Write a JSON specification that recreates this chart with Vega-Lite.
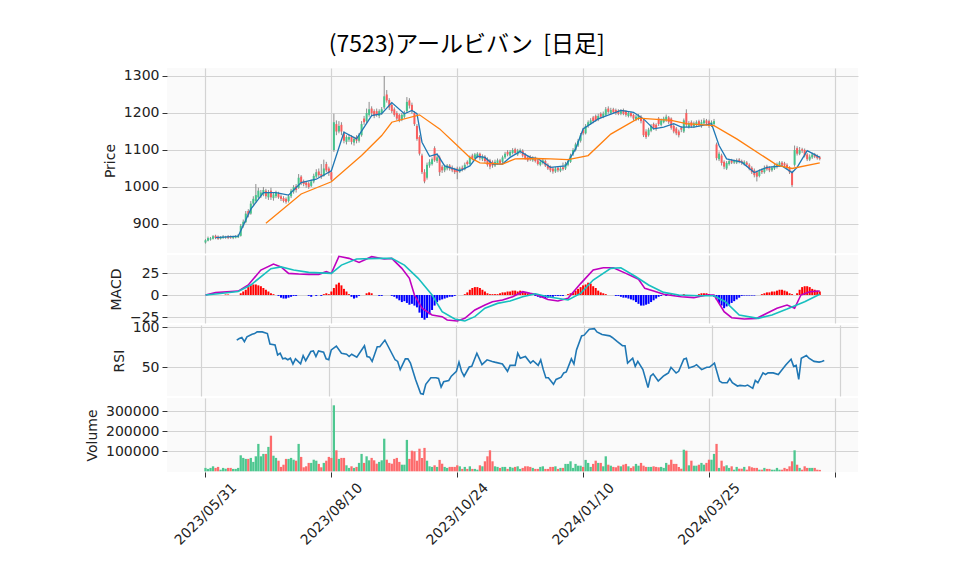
{
"$schema": "https://vega.github.io/schema/vega-lite/v6.json",
"background": "white",
"padding": {"left": 85, "top": 34, "right": 10, "bottom": 5},
"spacing": 2,
"bounds": "flush",
"title": {"text": "(7523)アールビバン \u00a0[日足]", "font": "Noto Sans CJK JP", "fontSize": 23, "fontWeight": "normal", "color": "#000000", "anchor": "middle", "frame": "bounds", "offset": 11, "dx": -5},
"config": {
  "font": "DejaVu Sans",
  "view": {"fill": "#fafafa", "stroke": null},
  "axis": {"labelFont": "DejaVu Sans", "labelFontSize": 14, "labelColor": "#222222", "titleFont": "DejaVu Sans", "titleFontSize": 14, "titleFontWeight": "normal", "titleColor": "#222222", "gridColor": "#d3d3d3", "gridWidth": 1.2, "domain": false, "tickColor": "#333333", "tickSize": 5, "labelPadding": 3, "titlePadding": 6}
},
"datasets": {
"ohlc": [
{"i":0,"o":850,"h":859,"l":847,"c":856,"v":17000},
{"i":1,"o":855,"h":866,"l":853,"c":862,"v":12000},
{"i":2,"o":858,"h":865,"l":855,"c":861,"v":17000},
{"i":3,"o":860,"h":870,"l":858,"c":867,"v":25000},
{"i":4,"o":868,"h":871,"l":859,"c":862,"v":17000},
{"i":5,"o":866,"h":869,"l":857,"c":860,"v":22000},
{"i":6,"o":860,"h":867,"l":858,"c":864,"v":8000},
{"i":7,"o":862,"h":870,"l":860,"c":866,"v":17000},
{"i":8,"o":863,"h":868,"l":860,"c":865,"v":13000},
{"i":9,"o":867,"h":870,"l":859,"c":862,"v":17000},
{"i":10,"o":866,"h":869,"l":860,"c":863,"v":17000},
{"i":11,"o":862,"h":868,"l":859,"c":865,"v":12000},
{"i":12,"o":863,"h":870,"l":861,"c":866,"v":12000},
{"i":13,"o":864,"h":873,"l":862,"c":869,"v":17000},
{"i":14,"o":868,"h":900,"l":866,"c":895,"v":80000},
{"i":15,"o":895,"h":912,"l":890,"c":906,"v":67000},
{"i":16,"o":905,"h":935,"l":902,"c":928,"v":62000},
{"i":17,"o":935,"h":940,"l":918,"c":925,"v":62000},
{"i":18,"o":928,"h":962,"l":925,"c":955,"v":67000},
{"i":19,"o":955,"h":975,"l":950,"c":968,"v":47000},
{"i":20,"o":962,"h":1008,"l":958,"c":978,"v":75000},
{"i":21,"o":972,"h":998,"l":968,"c":990,"v":137000},
{"i":22,"o":975,"h":992,"l":970,"c":985,"v":75000},
{"i":23,"o":980,"h":1000,"l":975,"c":992,"v":87000},
{"i":24,"o":990,"h":995,"l":968,"c":975,"v":87000},
{"i":25,"o":972,"h":992,"l":965,"c":985,"v":122000},
{"i":26,"o":990,"h":998,"l":965,"c":972,"v":178000},
{"i":27,"o":970,"h":986,"l":963,"c":980,"v":78000},
{"i":28,"o":975,"h":990,"l":970,"c":985,"v":67000},
{"i":29,"o":982,"h":987,"l":968,"c":972,"v":53000},
{"i":30,"o":975,"h":980,"l":962,"c":968,"v":22000},
{"i":31,"o":970,"h":975,"l":958,"c":962,"v":33000},
{"i":32,"o":968,"h":972,"l":955,"c":960,"v":62000},
{"i":33,"o":962,"h":980,"l":958,"c":975,"v":62000},
{"i":34,"o":975,"h":995,"l":970,"c":990,"v":67000},
{"i":35,"o":988,"h":1005,"l":982,"c":1000,"v":58000},
{"i":36,"o":1002,"h":1008,"l":985,"c":992,"v":53000},
{"i":37,"o":998,"h":1035,"l":995,"c":1025,"v":137000},
{"i":38,"o":1028,"h":1032,"l":1005,"c":1012,"v":72000},
{"i":39,"o":1015,"h":1020,"l":1002,"c":1008,"v":20000},
{"i":40,"o":1012,"h":1016,"l":998,"c":1005,"v":25000},
{"i":41,"o":1010,"h":1014,"l":995,"c":1000,"v":42000},
{"i":42,"o":1003,"h":1020,"l":1000,"c":1015,"v":42000},
{"i":43,"o":1015,"h":1036,"l":1010,"c":1030,"v":58000},
{"i":44,"o":1028,"h":1048,"l":1024,"c":1040,"v":53000},
{"i":45,"o":1042,"h":1050,"l":1026,"c":1032,"v":37000},
{"i":46,"o":1035,"h":1062,"l":1022,"c":1028,"v":20000},
{"i":47,"o":1030,"h":1074,"l":1028,"c":1050,"v":42000},
{"i":48,"o":1062,"h":1068,"l":1040,"c":1045,"v":53000},
{"i":49,"o":1050,"h":1055,"l":1030,"c":1038,"v":72000},
{"i":50,"o":1040,"h":1045,"l":1015,"c":1020,"v":67000},
{"i":51,"o":1100,"h":1198,"l":1095,"c":1175,"v":330000},
{"i":52,"o":1170,"h":1180,"l":1140,"c":1150,"v":105000},
{"i":53,"o":1150,"h":1178,"l":1145,"c":1165,"v":62000},
{"i":54,"o":1168,"h":1175,"l":1140,"c":1150,"v":67000},
{"i":55,"o":1145,"h":1150,"l":1118,"c":1125,"v":67000},
{"i":56,"o":1122,"h":1140,"l":1115,"c":1135,"v":30000},
{"i":57,"o":1128,"h":1142,"l":1122,"c":1135,"v":17000},
{"i":58,"o":1135,"h":1140,"l":1115,"c":1122,"v":25000},
{"i":59,"o":1120,"h":1136,"l":1112,"c":1130,"v":17000},
{"i":60,"o":1135,"h":1140,"l":1118,"c":1125,"v":22000},
{"i":61,"o":1125,"h":1146,"l":1120,"c":1140,"v":42000},
{"i":62,"o":1140,"h":1178,"l":1136,"c":1170,"v":87000},
{"i":63,"o":1185,"h":1192,"l":1168,"c":1175,"v":42000},
{"i":64,"o":1178,"h":1212,"l":1172,"c":1200,"v":75000},
{"i":65,"o":1195,"h":1230,"l":1190,"c":1210,"v":55000},
{"i":66,"o":1212,"h":1218,"l":1192,"c":1200,"v":67000},
{"i":67,"o":1205,"h":1210,"l":1186,"c":1192,"v":55000},
{"i":68,"o":1205,"h":1212,"l":1190,"c":1195,"v":38000},
{"i":69,"o":1192,"h":1210,"l":1186,"c":1205,"v":47000},
{"i":70,"o":1200,"h":1216,"l":1195,"c":1210,"v":55000},
{"i":71,"o":1215,"h":1300,"l":1210,"c":1245,"v":163000},
{"i":72,"o":1250,"h":1262,"l":1228,"c":1234,"v":58000},
{"i":73,"o":1235,"h":1240,"l":1208,"c":1215,"v":42000},
{"i":74,"o":1222,"h":1228,"l":1200,"c":1205,"v":38000},
{"i":75,"o":1210,"h":1215,"l":1190,"c":1195,"v":62000},
{"i":76,"o":1200,"h":1205,"l":1180,"c":1185,"v":67000},
{"i":77,"o":1195,"h":1198,"l":1175,"c":1180,"v":47000},
{"i":78,"o":1182,"h":1200,"l":1178,"c":1195,"v":33000},
{"i":79,"o":1190,"h":1206,"l":1185,"c":1200,"v":33000},
{"i":80,"o":1205,"h":1243,"l":1200,"c":1230,"v":157000},
{"i":81,"o":1234,"h":1240,"l":1212,"c":1220,"v":62000},
{"i":82,"o":1222,"h":1228,"l":1198,"c":1205,"v":103000},
{"i":83,"o":1200,"h":1205,"l":1165,"c":1170,"v":100000},
{"i":84,"o":1165,"h":1170,"l":1125,"c":1130,"v":53000},
{"i":85,"o":1135,"h":1140,"l":1085,"c":1090,"v":113000},
{"i":86,"o":1085,"h":1090,"l":1035,"c":1040,"v":67000},
{"i":87,"o":1040,"h":1048,"l":1010,"c":1015,"v":117000},
{"i":88,"o":1025,"h":1066,"l":1020,"c":1060,"v":53000},
{"i":89,"o":1058,"h":1075,"l":1052,"c":1068,"v":25000},
{"i":90,"o":1062,"h":1080,"l":1058,"c":1075,"v":22000},
{"i":91,"o":1105,"h":1110,"l":1068,"c":1072,"v":30000},
{"i":92,"o":1070,"h":1090,"l":1065,"c":1080,"v":22000},
{"i":93,"o":1080,"h":1085,"l":1030,"c":1040,"v":57000},
{"i":94,"o":1055,"h":1060,"l":1038,"c":1045,"v":38000},
{"i":95,"o":1045,"h":1060,"l":1040,"c":1055,"v":22000},
{"i":96,"o":1050,"h":1062,"l":1045,"c":1058,"v":17000},
{"i":97,"o":1058,"h":1062,"l":1044,"c":1050,"v":22000},
{"i":98,"o":1052,"h":1058,"l":1040,"c":1045,"v":22000},
{"i":99,"o":1048,"h":1052,"l":1035,"c":1040,"v":22000},
{"i":100,"o":1050,"h":1055,"l":1021,"c":1040,"v":30000},
{"i":101,"o":1042,"h":1055,"l":1038,"c":1050,"v":25000},
{"i":102,"o":1052,"h":1058,"l":1042,"c":1048,"v":12000},
{"i":103,"o":1048,"h":1066,"l":1045,"c":1060,"v":22000},
{"i":104,"o":1068,"h":1072,"l":1058,"c":1062,"v":12000},
{"i":105,"o":1062,"h":1085,"l":1060,"c":1080,"v":25000},
{"i":106,"o":1085,"h":1090,"l":1072,"c":1078,"v":12000},
{"i":107,"o":1078,"h":1092,"l":1075,"c":1088,"v":12000},
{"i":108,"o":1082,"h":1094,"l":1078,"c":1090,"v":8000},
{"i":109,"o":1090,"h":1093,"l":1072,"c":1078,"v":30000},
{"i":110,"o":1075,"h":1088,"l":1070,"c":1082,"v":25000},
{"i":111,"o":1082,"h":1086,"l":1065,"c":1070,"v":50000},
{"i":112,"o":1075,"h":1080,"l":1055,"c":1060,"v":75000},
{"i":113,"o":1072,"h":1076,"l":1048,"c":1055,"v":105000},
{"i":114,"o":1068,"h":1072,"l":1052,"c":1058,"v":50000},
{"i":115,"o":1058,"h":1074,"l":1054,"c":1068,"v":25000},
{"i":116,"o":1065,"h":1077,"l":1060,"c":1072,"v":22000},
{"i":117,"o":1072,"h":1076,"l":1060,"c":1065,"v":17000},
{"i":118,"o":1068,"h":1085,"l":1064,"c":1080,"v":22000},
{"i":119,"o":1080,"h":1095,"l":1076,"c":1090,"v":22000},
{"i":120,"o":1095,"h":1100,"l":1083,"c":1088,"v":12000},
{"i":121,"o":1085,"h":1100,"l":1082,"c":1095,"v":22000},
{"i":122,"o":1092,"h":1105,"l":1088,"c":1100,"v":18000},
{"i":123,"o":1102,"h":1106,"l":1088,"c":1092,"v":22000},
{"i":124,"o":1088,"h":1103,"l":1084,"c":1098,"v":25000},
{"i":125,"o":1095,"h":1104,"l":1090,"c":1100,"v":12000},
{"i":126,"o":1098,"h":1102,"l":1080,"c":1085,"v":17000},
{"i":127,"o":1088,"h":1092,"l":1074,"c":1078,"v":25000},
{"i":128,"o":1080,"h":1085,"l":1068,"c":1072,"v":25000},
{"i":129,"o":1082,"h":1086,"l":1070,"c":1075,"v":22000},
{"i":130,"o":1072,"h":1083,"l":1068,"c":1078,"v":17000},
{"i":131,"o":1078,"h":1082,"l":1066,"c":1070,"v":12000},
{"i":132,"o":1072,"h":1076,"l":1058,"c":1062,"v":12000},
{"i":133,"o":1060,"h":1073,"l":1056,"c":1068,"v":22000},
{"i":134,"o":1065,"h":1076,"l":1061,"c":1072,"v":25000},
{"i":135,"o":1070,"h":1074,"l":1054,"c":1058,"v":12000},
{"i":136,"o":1060,"h":1064,"l":1046,"c":1050,"v":12000},
{"i":137,"o":1055,"h":1058,"l":1040,"c":1045,"v":22000},
{"i":138,"o":1050,"h":1054,"l":1036,"c":1042,"v":22000},
{"i":139,"o":1042,"h":1054,"l":1038,"c":1050,"v":25000},
{"i":140,"o":1052,"h":1056,"l":1040,"c":1045,"v":12000},
{"i":141,"o":1044,"h":1055,"l":1040,"c":1050,"v":17000},
{"i":142,"o":1053,"h":1066,"l":1044,"c":1048,"v":17000},
{"i":143,"o":1050,"h":1068,"l":1046,"c":1062,"v":37000},
{"i":144,"o":1060,"h":1076,"l":1056,"c":1070,"v":37000},
{"i":145,"o":1068,"h":1090,"l":1065,"c":1085,"v":50000},
{"i":146,"o":1088,"h":1105,"l":1084,"c":1100,"v":17000},
{"i":147,"o":1100,"h":1120,"l":1096,"c":1115,"v":37000},
{"i":148,"o":1112,"h":1130,"l":1108,"c":1125,"v":28000},
{"i":149,"o":1125,"h":1146,"l":1120,"c":1140,"v":28000},
{"i":150,"o":1155,"h":1160,"l":1140,"c":1145,"v":22000},
{"i":151,"o":1145,"h":1170,"l":1142,"c":1165,"v":57000},
{"i":152,"o":1165,"h":1180,"l":1160,"c":1175,"v":42000},
{"i":153,"o":1172,"h":1186,"l":1168,"c":1180,"v":22000},
{"i":154,"o":1188,"h":1192,"l":1172,"c":1178,"v":37000},
{"i":155,"o":1192,"h":1196,"l":1176,"c":1180,"v":53000},
{"i":156,"o":1182,"h":1198,"l":1178,"c":1192,"v":42000},
{"i":157,"o":1198,"h":1202,"l":1185,"c":1190,"v":42000},
{"i":158,"o":1190,"h":1204,"l":1186,"c":1198,"v":25000},
{"i":159,"o":1195,"h":1216,"l":1192,"c":1210,"v":75000},
{"i":160,"o":1212,"h":1218,"l":1198,"c":1203,"v":33000},
{"i":161,"o":1200,"h":1214,"l":1196,"c":1208,"v":28000},
{"i":162,"o":1210,"h":1214,"l":1198,"c":1202,"v":22000},
{"i":163,"o":1208,"h":1212,"l":1195,"c":1200,"v":20000},
{"i":164,"o":1206,"h":1210,"l":1194,"c":1198,"v":28000},
{"i":165,"o":1198,"h":1210,"l":1194,"c":1205,"v":25000},
{"i":166,"o":1208,"h":1212,"l":1194,"c":1198,"v":33000},
{"i":167,"o":1205,"h":1208,"l":1190,"c":1195,"v":37000},
{"i":168,"o":1192,"h":1205,"l":1188,"c":1200,"v":25000},
{"i":169,"o":1200,"h":1204,"l":1188,"c":1192,"v":17000},
{"i":170,"o":1195,"h":1198,"l":1180,"c":1185,"v":25000},
{"i":171,"o":1182,"h":1195,"l":1178,"c":1190,"v":37000},
{"i":172,"o":1185,"h":1197,"l":1180,"c":1192,"v":28000},
{"i":173,"o":1190,"h":1194,"l":1172,"c":1178,"v":42000},
{"i":174,"o":1180,"h":1184,"l":1135,"c":1140,"v":28000},
{"i":175,"o":1150,"h":1156,"l":1130,"c":1135,"v":22000},
{"i":176,"o":1140,"h":1160,"l":1136,"c":1155,"v":22000},
{"i":177,"o":1152,"h":1170,"l":1148,"c":1165,"v":22000},
{"i":178,"o":1170,"h":1174,"l":1155,"c":1160,"v":25000},
{"i":179,"o":1168,"h":1172,"l":1152,"c":1158,"v":22000},
{"i":180,"o":1185,"h":1189,"l":1165,"c":1170,"v":20000},
{"i":181,"o":1168,"h":1185,"l":1164,"c":1180,"v":22000},
{"i":182,"o":1175,"h":1190,"l":1172,"c":1185,"v":17000},
{"i":183,"o":1180,"h":1196,"l":1176,"c":1190,"v":42000},
{"i":184,"o":1188,"h":1192,"l":1170,"c":1175,"v":33000},
{"i":185,"o":1185,"h":1188,"l":1155,"c":1160,"v":58000},
{"i":186,"o":1165,"h":1170,"l":1145,"c":1150,"v":37000},
{"i":187,"o":1158,"h":1162,"l":1140,"c":1145,"v":37000},
{"i":188,"o":1150,"h":1155,"l":1134,"c":1140,"v":22000},
{"i":189,"o":1160,"h":1164,"l":1148,"c":1155,"v":13000},
{"i":190,"o":1150,"h":1185,"l":1146,"c":1180,"v":108000},
{"i":191,"o":1200,"h":1210,"l":1162,"c":1168,"v":103000},
{"i":192,"o":1162,"h":1178,"l":1158,"c":1172,"v":30000},
{"i":193,"o":1175,"h":1180,"l":1160,"c":1165,"v":53000},
{"i":194,"o":1164,"h":1177,"l":1160,"c":1172,"v":28000},
{"i":195,"o":1168,"h":1180,"l":1164,"c":1175,"v":28000},
{"i":196,"o":1178,"h":1182,"l":1163,"c":1168,"v":33000},
{"i":197,"o":1165,"h":1182,"l":1160,"c":1175,"v":42000},
{"i":198,"o":1172,"h":1186,"l":1168,"c":1180,"v":33000},
{"i":199,"o":1180,"h":1184,"l":1166,"c":1172,"v":42000},
{"i":200,"o":1178,"h":1182,"l":1160,"c":1165,"v":58000},
{"i":201,"o":1165,"h":1180,"l":1162,"c":1175,"v":58000},
{"i":202,"o":1170,"h":1184,"l":1166,"c":1178,"v":87000},
{"i":203,"o":1115,"h":1120,"l":1072,"c":1078,"v":137000},
{"i":204,"o":1075,"h":1096,"l":1070,"c":1090,"v":17000},
{"i":205,"o":1085,"h":1090,"l":1058,"c":1065,"v":53000},
{"i":206,"o":1068,"h":1072,"l":1048,"c":1055,"v":25000},
{"i":207,"o":1050,"h":1070,"l":1046,"c":1065,"v":30000},
{"i":208,"o":1062,"h":1075,"l":1058,"c":1070,"v":17000},
{"i":209,"o":1072,"h":1076,"l":1062,"c":1066,"v":25000},
{"i":210,"o":1066,"h":1074,"l":1062,"c":1070,"v":8000},
{"i":211,"o":1066,"h":1077,"l":1062,"c":1072,"v":22000},
{"i":212,"o":1074,"h":1078,"l":1064,"c":1068,"v":13000},
{"i":213,"o":1070,"h":1074,"l":1060,"c":1065,"v":13000},
{"i":214,"o":1062,"h":1072,"l":1058,"c":1068,"v":22000},
{"i":215,"o":1066,"h":1070,"l":1055,"c":1060,"v":8000},
{"i":216,"o":1060,"h":1064,"l":1045,"c":1050,"v":25000},
{"i":217,"o":1052,"h":1056,"l":1035,"c":1040,"v":20000},
{"i":218,"o":1045,"h":1050,"l":1026,"c":1032,"v":17000},
{"i":219,"o":1040,"h":1044,"l":1015,"c":1028,"v":17000},
{"i":220,"o":1030,"h":1048,"l":1026,"c":1042,"v":8000},
{"i":221,"o":1045,"h":1050,"l":1035,"c":1040,"v":8000},
{"i":222,"o":1040,"h":1058,"l":1036,"c":1052,"v":17000},
{"i":223,"o":1055,"h":1060,"l":1044,"c":1048,"v":12000},
{"i":224,"o":1052,"h":1056,"l":1040,"c":1045,"v":12000},
{"i":225,"o":1045,"h":1056,"l":1041,"c":1052,"v":8000},
{"i":226,"o":1050,"h":1062,"l":1046,"c":1058,"v":8000},
{"i":227,"o":1055,"h":1066,"l":1050,"c":1062,"v":17000},
{"i":228,"o":1058,"h":1070,"l":1054,"c":1066,"v":8000},
{"i":229,"o":1066,"h":1070,"l":1056,"c":1060,"v":8000},
{"i":230,"o":1064,"h":1068,"l":1054,"c":1058,"v":17000},
{"i":231,"o":1060,"h":1064,"l":1048,"c":1052,"v":12000},
{"i":232,"o":1052,"h":1056,"l":1035,"c":1040,"v":25000},
{"i":233,"o":1040,"h":1044,"l":1000,"c":1005,"v":50000},
{"i":234,"o":1060,"h":1112,"l":1055,"c":1100,"v":105000},
{"i":235,"o":1105,"h":1110,"l":1085,"c":1090,"v":33000},
{"i":236,"o":1090,"h":1108,"l":1086,"c":1100,"v":17000},
{"i":237,"o":1102,"h":1106,"l":1092,"c":1098,"v":8000},
{"i":238,"o":1100,"h":1104,"l":1080,"c":1085,"v":25000},
{"i":239,"o":1088,"h":1092,"l":1070,"c":1075,"v":17000},
{"i":240,"o":1074,"h":1088,"l":1070,"c":1082,"v":17000},
{"i":241,"o":1080,"h":1093,"l":1076,"c":1088,"v":17000},
{"i":242,"o":1088,"h":1092,"l":1078,"c":1082,"v":17000},
{"i":243,"o":1084,"h":1088,"l":1074,"c":1078,"v":8000},
{"i":244,"o":1080,"h":1084,"l":1072,"c":1076,"v":7000}
],
"ma5": [
{"i":4,"v":863},{"i":13,"v":867},{"i":18,"v":940},{"i":23,"v":985},{"i":28,"v":985},{"i":33,"v":978},{"i":38,"v":1012},{"i":44,"v":1021},{"i":50,"v":1044},{"i":55,"v":1148},{"i":60,"v":1130},{"i":66,"v":1193},{"i":70,"v":1198},{"i":74,"v":1228},{"i":79,"v":1198},{"i":82,"v":1207},{"i":84,"v":1198},{"i":86,"v":1121},{"i":89,"v":1083},{"i":92,"v":1089},{"i":95,"v":1057},{"i":101,"v":1044},{"i":105,"v":1057},{"i":108,"v":1083},{"i":111,"v":1080},{"i":114,"v":1062},{"i":118,"v":1062},{"i":121,"v":1080},{"i":125,"v":1096},{"i":129,"v":1080},{"i":132,"v":1077},{"i":137,"v":1053},{"i":143,"v":1057},{"i":147,"v":1103},{"i":150,"v":1157},{"i":156,"v":1184},{"i":165,"v":1207},{"i":170,"v":1202},{"i":174,"v":1184},{"i":178,"v":1157},{"i":182,"v":1162},{"i":186,"v":1171},{"i":189,"v":1162},{"i":194,"v":1162},{"i":201,"v":1171},{"i":204,"v":1112},{"i":207,"v":1076},{"i":213,"v":1067},{"i":218,"v":1039},{"i":223,"v":1053},{"i":229,"v":1057},{"i":233,"v":1039},{"i":235,"v":1053},{"i":239,"v":1098},{"i":244,"v":1080}
],
"ma25": [
{"i":24,"v":902},{"i":38,"v":981},{"i":50,"v":1014},{"i":62,"v":1085},{"i":66,"v":1112},{"i":70,"v":1139},{"i":74,"v":1175},{"i":85,"v":1195},{"i":93,"v":1157},{"i":100,"v":1112},{"i":105,"v":1080},{"i":109,"v":1065},{"i":118,"v":1062},{"i":123,"v":1076},{"i":131,"v":1077},{"i":137,"v":1076},{"i":144,"v":1074},{"i":152,"v":1085},{"i":161,"v":1143},{"i":172,"v":1186},{"i":185,"v":1180},{"i":191,"v":1171},{"i":202,"v":1166},{"i":211,"v":1130},{"i":227,"v":1059},{"i":233,"v":1050},{"i":244,"v":1065}
],
"macd": [
{"i":0,"v":0},{"i":4,"v":2.7},{"i":13,"v":4.5},{"i":17,"v":11.4},{"i":22,"v":28.4},{"i":27,"v":35.2},{"i":30,"v":32},{"i":33,"v":24.6},{"i":37,"v":23.9},{"i":41,"v":23.5},{"i":45,"v":23.5},{"i":48,"v":26.5},{"i":50,"v":24.6},{"i":53,"v":44},{"i":57,"v":41.7},{"i":61,"v":37},{"i":66,"v":43.6},{"i":71,"v":40.9},{"i":74,"v":41.7},{"i":78,"v":30.3},{"i":81,"v":19},{"i":83,"v":0},{"i":86,"v":-15},{"i":90,"v":-22.7},{"i":94,"v":-24.6},{"i":96,"v":-28.4},{"i":100,"v":-29.5},{"i":103,"v":-26.5},{"i":107,"v":-17},{"i":111,"v":-11.4},{"i":114,"v":-7.6},{"i":118,"v":-5.7},{"i":122,"v":-1.9},{"i":126,"v":3.8},{"i":129,"v":1.9},{"i":131,"v":0.8},{"i":136,"v":-5},{"i":140,"v":-6.8},{"i":144,"v":-3.8},{"i":149,"v":13},{"i":154,"v":28.4},{"i":158,"v":31},{"i":162,"v":31},{"i":167,"v":24.6},{"i":172,"v":18},{"i":174.5,"v":7.6},{"i":178,"v":4.5},{"i":182,"v":0.8},{"i":186,"v":-0.8},{"i":189,"v":-1.9},{"i":194,"v":-3},{"i":199,"v":0},{"i":202,"v":0},{"i":206,"v":-19},{"i":209,"v":-25.8},{"i":214,"v":-27.3},{"i":219,"v":-26.5},{"i":223,"v":-20.8},{"i":227,"v":-15},{"i":231,"v":-11.4},{"i":234,"v":-15},{"i":236.5,"v":0},{"i":240,"v":3.8},{"i":244,"v":4.5}
],
"signal": [
{"i":0,"v":0},{"i":5,"v":1.5},{"i":13,"v":4},{"i":18,"v":11.4},{"i":26,"v":30},{"i":30,"v":32},{"i":35,"v":28.4},{"i":41,"v":25.8},{"i":50,"v":24.6},{"i":54,"v":34},{"i":60,"v":40.9},{"i":69,"v":41.7},{"i":74,"v":41.7},{"i":79,"v":34},{"i":84.5,"v":19},{"i":90,"v":0},{"i":94,"v":-19},{"i":99,"v":-27.3},{"i":103,"v":-29.5},{"i":107,"v":-24.6},{"i":111,"v":-15},{"i":116,"v":-9.5},{"i":121,"v":-6.8},{"i":126,"v":-1.9},{"i":129,"v":0},{"i":131,"v":1.5},{"i":136,"v":-1.9},{"i":144,"v":-5.7},{"i":149,"v":1.9},{"i":154,"v":17},{"i":161,"v":30.3},{"i":165,"v":31},{"i":171,"v":20.8},{"i":176,"v":11.4},{"i":182,"v":3},{"i":188,"v":0},{"i":196,"v":-0.8},{"i":202,"v":-0.8},{"i":206.5,"v":-7.6},{"i":212,"v":-22.7},{"i":219.5,"v":-26.5},{"i":225,"v":-22.7},{"i":231,"v":-16},{"i":238,"v":-7.6},{"i":244,"v":0.8}
],
"hist": [
{"i":8,"v":0.6},{"i":9,"v":0.6},{"i":14,"v":2},{"i":15,"v":4},{"i":16,"v":6},{"i":17,"v":9},{"i":18,"v":11},{"i":19,"v":12},{"i":20,"v":12},{"i":21,"v":11},{"i":22,"v":10},{"i":23,"v":8},{"i":24,"v":6},{"i":25,"v":4},{"i":26,"v":2},{"i":27,"v":1},
{"i":29,"v":-1},{"i":30,"v":-3},{"i":31,"v":-4},{"i":32,"v":-4},{"i":33,"v":-3},{"i":34,"v":-2},{"i":35,"v":-1},{"i":36,"v":-1},
{"i":41,"v":-1},{"i":42,"v":-2},{"i":44,"v":-1},{"i":46,"v":-1},{"i":47,"v":1},{"i":48,"v":2},{"i":49,"v":1},
{"i":50,"v":4},{"i":51,"v":8},{"i":52,"v":12},{"i":53,"v":14},{"i":54,"v":11},{"i":55,"v":7},{"i":56,"v":4},{"i":57,"v":1},
{"i":58,"v":-2},{"i":59,"v":-4},{"i":60,"v":-3},{"i":61,"v":-1},{"i":64,"v":2},{"i":65,"v":3},{"i":66,"v":2},{"i":69,"v":-1},{"i":70,"v":-1},
{"i":74,"v":-1},{"i":75,"v":-2},{"i":76,"v":-4},{"i":77,"v":-6},{"i":78,"v":-8},{"i":79,"v":-7},{"i":80,"v":-9},{"i":81,"v":-11},{"i":82,"v":-10},{"i":83,"v":-12},{"i":84,"v":-14},{"i":85,"v":-20},{"i":86,"v":-26},{"i":87,"v":-28},{"i":88,"v":-26},{"i":89,"v":-22},{"i":90,"v":-17},{"i":91,"v":-12},{"i":92,"v":-8},{"i":93,"v":-6},{"i":94,"v":-5},{"i":95,"v":-4},{"i":96,"v":-3},{"i":97,"v":-2},{"i":98,"v":-2},{"i":99,"v":-1},
{"i":103,"v":1},{"i":104,"v":3},{"i":105,"v":6},{"i":106,"v":8},{"i":107,"v":9},{"i":108,"v":9},{"i":109,"v":8},{"i":110,"v":6},{"i":111,"v":4},{"i":112,"v":2},{"i":113,"v":1},
{"i":114,"v":1},{"i":115,"v":1},{"i":116,"v":1},{"i":117,"v":2},{"i":118,"v":3},{"i":119,"v":3},{"i":120,"v":4},{"i":121,"v":4},{"i":122,"v":5},{"i":123,"v":5},{"i":124,"v":4},{"i":125,"v":5},{"i":126,"v":4},{"i":127,"v":3},{"i":128,"v":2},{"i":129,"v":1},{"i":130,"v":0.5},
{"i":131,"v":-1},{"i":132,"v":-2},{"i":133,"v":-3},{"i":134,"v":-3},{"i":135,"v":-4},{"i":136,"v":-3},{"i":137,"v":-2},{"i":138,"v":-2},{"i":139,"v":-1},{"i":140,"v":-1},{"i":141,"v":-1},{"i":142,"v":-1},
{"i":144,"v":1},{"i":145,"v":2},{"i":146,"v":3},{"i":147,"v":5},{"i":148,"v":7},{"i":149,"v":9},{"i":150,"v":11},{"i":151,"v":12},{"i":152,"v":14},{"i":153,"v":13},{"i":154,"v":10},{"i":155,"v":8},{"i":156,"v":5},{"i":157,"v":3},{"i":158,"v":2},{"i":159,"v":1},
{"i":163,"v":-1},{"i":164,"v":-1},{"i":165,"v":-2},{"i":166,"v":-3},{"i":167,"v":-3},{"i":168,"v":-4},{"i":169,"v":-5},{"i":170,"v":-6},{"i":171,"v":-8},{"i":172,"v":-10},{"i":173,"v":-12},{"i":174,"v":-12},{"i":175,"v":-11},{"i":176,"v":-10},{"i":177,"v":-8},{"i":178,"v":-6},{"i":179,"v":-4},{"i":180,"v":-2},{"i":181,"v":-1},
{"i":183,"v":-1},{"i":185,"v":1},{"i":186,"v":-1},{"i":188,"v":-1},{"i":190,"v":1},{"i":192,"v":-1},{"i":194,"v":-1},{"i":196,"v":1},{"i":197,"v":2},{"i":198,"v":2},{"i":199,"v":2},{"i":200,"v":1},
{"i":202,"v":-2},{"i":203,"v":-5},{"i":204,"v":-9},{"i":205,"v":-12},{"i":206,"v":-15},{"i":207,"v":-13},{"i":208,"v":-11},{"i":209,"v":-9},{"i":210,"v":-7},{"i":211,"v":-5},{"i":212,"v":-3},{"i":213,"v":-1},
{"i":214,"v":-0.6},{"i":215,"v":-0.6},{"i":216,"v":-0.6},{"i":217,"v":-0.6},{"i":218,"v":-0.6},
{"i":221,"v":1},{"i":222,"v":2},{"i":223,"v":3},{"i":224,"v":3},{"i":225,"v":4},{"i":226,"v":4},{"i":227,"v":5},{"i":228,"v":6},{"i":229,"v":6},{"i":230,"v":5},{"i":231,"v":4},{"i":232,"v":2},{"i":233,"v":1},
{"i":235,"v":2},{"i":236,"v":6},{"i":237,"v":9},{"i":238,"v":10},{"i":239,"v":10},{"i":240,"v":9},{"i":241,"v":7},{"i":242,"v":6},{"i":243,"v":5},{"i":244,"v":4}
],
"rsi": [
{"i":14,"v":83.6},{"i":15,"v":85.6},{"i":16,"v":86.9},{"i":17,"v":81.6},{"i":18,"v":87.7},{"i":20,"v":91},{"i":21,"v":91.8},{"i":22,"v":93.9},{"i":24,"v":93.9},{"i":26,"v":91.8},{"i":27,"v":78.7},{"i":29,"v":77.5},{"i":30,"v":65.1},{"i":31,"v":67.2},{"i":32,"v":60.2},{"i":33,"v":61},{"i":34,"v":59},{"i":35,"v":61},{"i":36,"v":53.7},{"i":37,"v":60.2},{"i":39,"v":54.1},{"i":40,"v":64.3},{"i":41,"v":57.8},{"i":43,"v":69.3},{"i":44,"v":70.1},{"i":45,"v":63.1},{"i":46,"v":70.1},{"i":48,"v":68.4},{"i":49,"v":60.2},{"i":50,"v":59},{"i":51,"v":71.3},{"i":53,"v":76.2},{"i":55,"v":67.2},{"i":57,"v":66},{"i":58,"v":63.1},{"i":59,"v":66},{"i":61,"v":62.3},{"i":64,"v":76.6},{"i":65,"v":63.1},{"i":66,"v":62.3},{"i":67,"v":57},{"i":69,"v":75.4},{"i":70,"v":75.4},{"i":72,"v":83.6},{"i":73,"v":77.5},{"i":76,"v":59},{"i":77,"v":57},{"i":78,"v":46.7},{"i":80,"v":60.2},{"i":81,"v":60.2},{"i":82,"v":54.9},{"i":84,"v":34.4},{"i":86,"v":16.8},{"i":87,"v":16},{"i":88,"v":28.3},{"i":90,"v":36.5},{"i":92,"v":36.5},{"i":93,"v":35.6},{"i":94,"v":25},{"i":95,"v":31.5},{"i":97,"v":33.2},{"i":98,"v":38.5},{"i":100,"v":44.6},{"i":101,"v":56.1},{"i":102,"v":44.6},{"i":103,"v":38.5},{"i":105,"v":50},{"i":106,"v":50.8},{"i":108,"v":67.2},{"i":110,"v":52.9},{"i":112,"v":59},{"i":114,"v":57},{"i":115,"v":56.1},{"i":118,"v":53.7},{"i":120,"v":44.6},{"i":121,"v":52},{"i":123,"v":52},{"i":124,"v":67.2},{"i":125,"v":61},{"i":127,"v":63.1},{"i":129,"v":54.9},{"i":130,"v":57.8},{"i":132,"v":52},{"i":133,"v":59},{"i":134,"v":46.7},{"i":135,"v":36.5},{"i":136,"v":36.5},{"i":138,"v":28.3},{"i":139,"v":34.4},{"i":141,"v":37.3},{"i":142,"v":42.6},{"i":143,"v":43.8},{"i":145,"v":60.2},{"i":146,"v":53.7},{"i":147,"v":71.3},{"i":149,"v":88.9},{"i":150,"v":89.8},{"i":152,"v":97.1},{"i":154,"v":98},{"i":155,"v":93.9},{"i":157,"v":90.6},{"i":160,"v":88.9},{"i":161,"v":86.9},{"i":163,"v":81.6},{"i":165,"v":76.6},{"i":166,"v":76.6},{"i":167,"v":54.9},{"i":169,"v":61},{"i":170,"v":50.8},{"i":171,"v":57},{"i":173,"v":46.7},{"i":175,"v":24.2},{"i":176,"v":38.5},{"i":177,"v":41.4},{"i":179,"v":32.4},{"i":181,"v":38.5},{"i":182,"v":40.6},{"i":183,"v":42.6},{"i":184,"v":49.6},{"i":186,"v":42.6},{"i":187,"v":44.6},{"i":189,"v":59.8},{"i":190,"v":61},{"i":191,"v":48.8},{"i":193,"v":50.8},{"i":194,"v":52.9},{"i":196,"v":46.7},{"i":198,"v":49.6},{"i":199,"v":49.6},{"i":201,"v":54.9},{"i":203,"v":32.4},{"i":204,"v":30.3},{"i":206,"v":30.3},{"i":207,"v":35.6},{"i":208,"v":30.3},{"i":210,"v":26.2},{"i":211,"v":27},{"i":213,"v":26.2},{"i":214,"v":27.4},{"i":216,"v":23.3},{"i":217,"v":33.2},{"i":218,"v":30.3},{"i":220,"v":42.6},{"i":221,"v":40.6},{"i":222,"v":42.6},{"i":224,"v":42.6},{"i":226,"v":40.6},{"i":227,"v":44.6},{"i":229,"v":52.9},{"i":231,"v":59.8},{"i":232,"v":50.8},{"i":233,"v":52},{"i":234,"v":34.4},{"i":235,"v":61},{"i":237,"v":64.3},{"i":238,"v":61},{"i":240,"v":57},{"i":242,"v":56.1},{"i":243,"v":57},{"i":244,"v":58}
]
},
"vconcat": [
{
 "width": 691, "height": 185,
 "encoding": {"x": {"field": "i", "type": "quantitative", "scale": {"domain": [-13.3, 257.2], "nice": false, "zero": false}, "axis": {"values": [0,50,100,150,200,250], "labels": false, "ticks": false, "domain": false, "title": null, "grid": true, "minExtent": 0, "maxExtent": 0}}},
 "layer": [
  {"data": {"name": "ohlc"}, "mark": {"type": "rule", "color": "#8c8c8c", "strokeWidth": 1},
   "encoding": {"y": {"field": "l", "type": "quantitative", "scale": {"domain": [821.6, 1321.6], "nice": false, "zero": false}, "axis": {"title": "Price", "values": [900,1000,1100,1200,1300], "format": "d"}}, "y2": {"field": "h"}}},
  {"data": {"name": "ohlc"}, "mark": {"type": "bar", "size": 2},
   "encoding": {"y": {"field": "o", "type": "quantitative", "scale": {"domain": [821.6, 1321.6], "nice": false, "zero": false}, "axis": {"title": "Price", "values": [900,1000,1100,1200,1300], "format": "d"}}, "y2": {"field": "c"},
    "color": {"condition": {"test": "datum.c >= datum.o", "value": "#45c38c"}, "value": "#f95d5d"}}},
  {"data": {"name": "ma5"}, "mark": {"type": "line", "color": "#1f77b4", "strokeWidth": 1.3},
   "encoding": {"y": {"field": "v", "type": "quantitative", "scale": {"domain": [821.6, 1321.6], "nice": false, "zero": false}, "axis": {"title": "Price", "values": [900,1000,1100,1200,1300], "format": "d"}}}},
  {"data": {"name": "ma25"}, "mark": {"type": "line", "color": "#ff7f0e", "strokeWidth": 1.3},
   "encoding": {"y": {"field": "v", "type": "quantitative", "scale": {"domain": [821.6, 1321.6], "nice": false, "zero": false}, "axis": {"title": "Price", "values": [900,1000,1100,1200,1300], "format": "d"}}}}
 ]
},
{
 "width": 691, "height": 68,
 "encoding": {"x": {"field": "i", "type": "quantitative", "scale": {"domain": [-13.3, 257.2], "nice": false, "zero": false}, "axis": {"values": [0,50,100,150,200,250], "labels": false, "ticks": false, "domain": false, "title": null, "grid": true, "minExtent": 0, "maxExtent": 0}}},
 "layer": [
  {"data": {"name": "hist"}, "mark": {"type": "bar", "size": 2},
   "encoding": {"y": {"field": "v", "type": "quantitative", "scale": {"domain": [-31.8, 45.5], "nice": false, "zero": false}, "axis": {"title": "MACD", "values": [-25, 0, 25]}}, "y2": {"datum": 0},
    "color": {"condition": {"test": "datum.v >= 0", "value": "#ff0000"}, "value": "#0000ff"}}},
  {"data": {"name": "macd"}, "mark": {"type": "line", "color": "#bf00bf", "strokeWidth": 1.6},
   "encoding": {"y": {"field": "v", "type": "quantitative", "scale": {"domain": [-31.8, 45.5], "nice": false, "zero": false}, "axis": {"title": "MACD", "values": [-25, 0, 25]}}}},
  {"data": {"name": "signal"}, "mark": {"type": "line", "color": "#17bfbf", "strokeWidth": 1.6},
   "encoding": {"y": {"field": "v", "type": "quantitative", "scale": {"domain": [-31.8, 45.5], "nice": false, "zero": false}, "axis": {"title": "MACD", "values": [-25, 0, 25]}}}}
 ]
},
{
 "width": 691, "height": 71,
 "encoding": {"x": {"field": "i", "type": "quantitative", "scale": {"domain": [-13.3, 257.2], "nice": false, "zero": false}, "axis": {"values": [0,50,100,150,200,250], "labels": false, "ticks": false, "domain": false, "title": null, "grid": true, "minExtent": 0, "maxExtent": 0}}},
 "layer": [
  {"data": {"name": "rsi"}, "mark": {"type": "line", "color": "#1f77b4", "strokeWidth": 1.6},
   "encoding": {"y": {"field": "v", "type": "quantitative", "scale": {"domain": [13.75, 102.5], "nice": false, "zero": false}, "axis": {"title": "RSI", "values": [50, 100]}}}}
 ]
},
{
 "width": 691, "height": 74,
 "encoding": {"x": {"field": "i", "type": "quantitative", "scale": {"domain": [-13.3, 257.2], "nice": false, "zero": false},
   "axis": {"values": [0,50,100,150,200,250], "labels": true, "ticks": true, "tickSize": 5, "domain": false, "title": null, "grid": true,
     "labelExpr": "datum.value == 0 ? '2023/05/31' : datum.value == 50 ? '2023/08/10' : datum.value == 100 ? '2023/10/24' : datum.value == 150 ? '2024/01/10' : datum.value == 200 ? '2024/03/25' : ''",
     "labelAngle": -45, "labelAlign": "center", "labelBaseline": "middle", "labelPadding": 37, "labelFlush": false, "labelOverlap": false, "labelBound": false}}},
 "layer": [
  {"data": {"name": "ohlc"}, "mark": {"type": "bar", "size": 2.3},
   "encoding": {"y": {"field": "v", "type": "quantitative", "scale": {"domain": [-3500, 366500], "nice": false, "zero": false}, "axis": {"title": "Volume", "values": [100000, 200000, 300000], "format": "d"}}, "y2": {"datum": 0},
    "color": {"condition": {"test": "datum.c >= datum.o", "value": "#4dc790"}, "value": "#fd6b6c"}}}
 ]
}
]
}
